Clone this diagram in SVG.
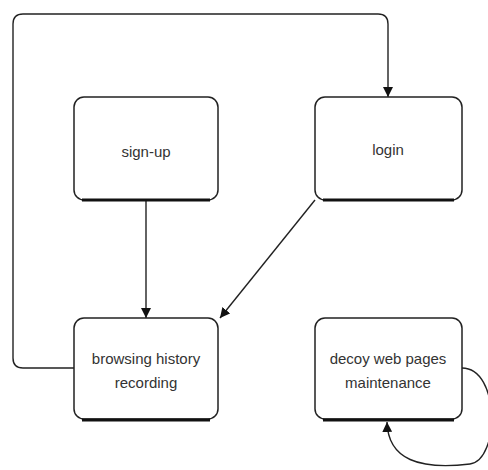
<svg xmlns="http://www.w3.org/2000/svg" width="488" height="470" viewBox="0 0 488 470">
<defs>
<marker id="arr" viewBox="0 0 10 10" refX="10" refY="5" markerWidth="10" markerHeight="10" markerUnits="userSpaceOnUse" orient="auto">
<path d="M0,0 L10,5 L0,10 z" fill="#111"/>
</marker>
<style>
.box{fill:#fff;stroke:#222;stroke-width:1.5}
.base{stroke:#111;stroke-width:3;fill:none}
.lbl{font-family:"Liberation Sans",Arial,sans-serif;font-size:15px;fill:#333;text-anchor:middle}
.edge{fill:none;stroke:#222;stroke-width:1.4}
</style>
</defs>
<rect width="488" height="470" fill="#fff"/>
<g id="connectors">
<path class="edge" d="M74,368 L23,368 Q13,368 13,358 L13,24 Q13,14 23,14 L378,14 Q388,14 388,24 L388,97" marker-end="url(#arr)"/>
<path class="edge" d="M146,201 L146,318" marker-end="url(#arr)"/>
<path class="edge" d="M315,200 L220,318" marker-end="url(#arr)"/>
<path class="edge" d="M462,368 C500,368 500,460 470,464 C420,470 388,460 387,422" marker-end="url(#arr)"/>
</g>
<g id="signup">
<rect class="box" x="74" y="97" width="144" height="103" rx="10"/>
<line class="base" x1="82" y1="200" x2="210" y2="200"/>
<text class="lbl" x="146" y="157">sign-up</text>
</g>
<g id="login">
<rect class="box" x="315" y="97" width="147" height="103" rx="10"/>
<line class="base" x1="323" y1="200" x2="454" y2="200"/>
<text class="lbl" x="388" y="155">login</text>
</g>
<g id="browsing">
<rect class="box" x="74" y="318" width="144" height="101" rx="10"/>
<line class="base" x1="82" y1="420" x2="210" y2="420"/>
<text class="lbl" x="146" y="364">browsing history</text>
<text class="lbl" x="146" y="388">recording</text>
</g>
<g id="decoy">
<rect class="box" x="315" y="318" width="147" height="101" rx="10"/>
<line class="base" x1="323" y1="420" x2="454" y2="420"/>
<text class="lbl" x="388" y="364">decoy web pages</text>
<text class="lbl" x="388" y="388">maintenance</text>
</g>
</svg>
